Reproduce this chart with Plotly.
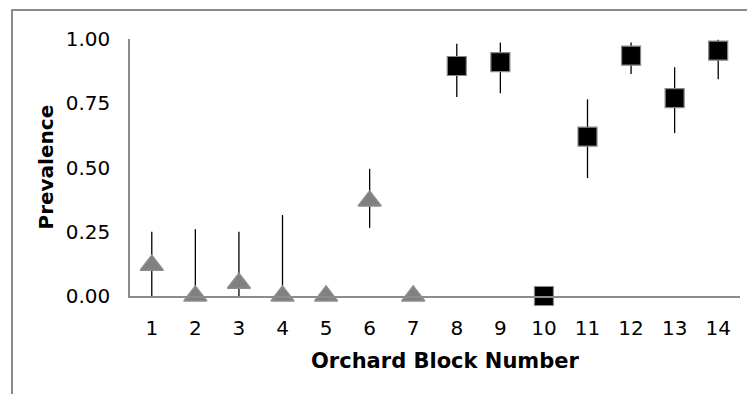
import plotly.graph_objects as go

blocks_a = [1, 2, 3, 4, 5, 6, 7]
prev_a = [0.12, 0.0, 0.05, 0.0, 0.0, 0.37, 0.0]
upper_a = [0.25, 0.26, 0.25, 0.315, 0.0, 0.495, 0.0]
lower_a = [0.0, 0.0, 0.0, 0.0, 0.0, 0.265, 0.0]

blocks_b = [8, 9, 10, 11, 12, 13, 14]
prev_b = [0.895, 0.91, 0.0, 0.62, 0.935, 0.77, 0.955]
upper_b = [0.982, 0.986, 0.0, 0.765, 0.986, 0.89, 0.997]
lower_b = [0.774, 0.789, 0.0, 0.459, 0.864, 0.634, 0.843]

ytick_vals = [0, 0.25, 0.5, 0.75, 1.0]
ytick_text = ["0.00", "0.25", "0.50", "0.75", "1.00"]
xtick_vals = list(range(1, 15))
xtick_text = [str(v) for v in xtick_vals]

FONT = "DejaVu Sans"
OFF = 8  # page body margin

def err(vals, up, lo):
    return dict(type="data", symmetric=False,
                array=[u - v for u, v in zip(up, vals)],
                arrayminus=[v - l for v, l in zip(vals, lo)],
                color="black", thickness=1.3, width=0)

fig = go.Figure()
fig.add_trace(go.Scatter(
    x=blocks_a, y=prev_a, mode="markers",
    marker=dict(symbol="triangle-up", size=20, color="#808080",
                line=dict(color="#8c8c8c", width=1.5)),
    error_y=err(prev_a, upper_a, lower_a), cliponaxis=False, showlegend=False))
fig.add_trace(go.Scatter(
    x=blocks_b, y=prev_b, mode="markers",
    marker=dict(symbol="square", size=19, color="black",
                line=dict(color="#888888", width=1.2)),
    error_y=err(prev_b, upper_b, lower_b), cliponaxis=False, showlegend=False))

W, H = 755 - OFF, 394 - OFF
L, T = 130 - OFF, 39 - OFF
R = W - (740 - OFF)
B = H - (296 - OFF)
pw, ph = W - L - R, H - T - B

def px(x):
    return (x - OFF - L) / pw

def py(y):
    return (T + ph - (y - OFF)) / ph

fig.update_layout(
    width=W, height=H,
    margin=dict(l=L, r=R, t=T, b=B),
    paper_bgcolor="white", plot_bgcolor="white",
    font=dict(family=FONT, size=20, color="black"),
    xaxis=dict(range=[0.5, 14.5], tickvals=xtick_vals, ticktext=xtick_text,
               showgrid=False, zeroline=False, showline=True,
               linecolor="#8c8c8c", linewidth=1.5, ticks="",
               ticklabelstandoff=13, tickfont=dict(size=20)),
    yaxis=dict(range=[0, 1], tickvals=ytick_vals, ticktext=ytick_text,
               showgrid=False, zeroline=False, showline=True,
               linecolor="#8c8c8c", linewidth=1.5, ticks="",
               ticklabelstandoff=14, tickfont=dict(size=20)),
    annotations=[
        dict(text="<b>Prevalence</b>", textangle=-90, xref="paper", yref="paper",
             x=px(45), y=0.5, showarrow=False, xanchor="center", yanchor="middle",
             font=dict(family=FONT, size=20)),
        dict(text="<b>Orchard Block Number</b>", xref="paper", yref="paper",
             x=px(445), y=py(361), showarrow=False,
             xanchor="center", yanchor="middle", font=dict(family=FONT, size=21)),
    ],
    shapes=[
        dict(type="rect", xref="paper", yref="paper",
             x0=px(12), x1=2.0, y0=-2.0, y1=py(10),
             line=dict(color="#8a8a8a", width=2), fillcolor="rgba(0,0,0,0)", layer="below"),
    ],
)

fig.write_html("out.html")
